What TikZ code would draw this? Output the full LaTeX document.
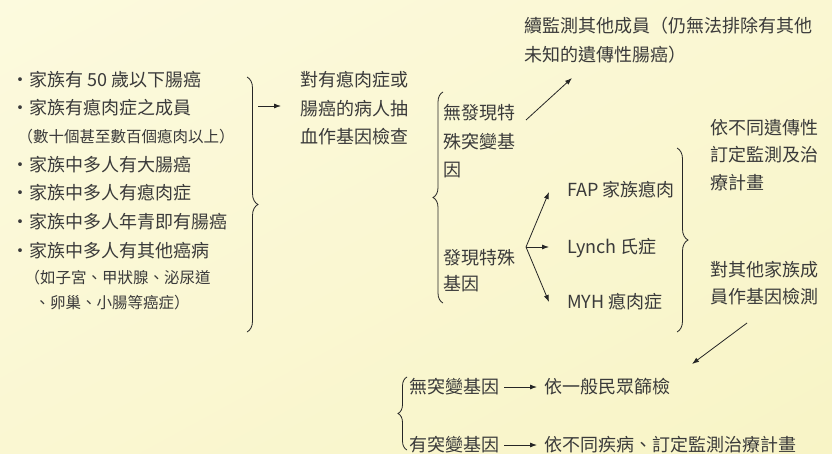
\documentclass[tikz,border=0pt]{standalone}
\usepackage{fontspec}
\setmainfont{Noto Sans CJK TC}
\usetikzlibrary{decorations.pathreplacing,arrows.meta,shadings}
\definecolor{bgA}{HTML}{FCFADE}
\definecolor{bgB}{HTML}{F8F4C6}
\definecolor{txtc}{HTML}{3A3A3A}
\definecolor{lnc}{HTML}{262626}
\begin{document}
\begin{tikzpicture}[x=1pt,y=-1pt,
  lbl/.style={anchor=west, inner sep=0pt, text=txtc, font=\fontsize{18}{20}\selectfont, text height=15.8pt, text depth=2.2pt},
  sml/.style={lbl, font=\fontsize{15.5}{17}\selectfont, text height=13.6pt, text depth=1.9pt},
  arr/.style={draw=lnc, line width=0.8pt, -{Latex[length=7pt,width=5pt]}},
  brc/.style={draw=lnc, line width=0.8pt, decorate, decoration={brace, amplitude=#1}}]
\useasboundingbox (0,0) rectangle (832,453);
\shade[upper left=bgA, lower right=bgB, upper right=bgA!50!bgB, lower left=bgA!50!bgB] (0,0) rectangle (832,453);

% left list
\node[lbl] (l1) at (11,80) {・家族有 50 歲以下腸癌};
\node[lbl] (l2) at (11,108) {・家族有瘜肉症之成員};
\node[sml] (l3) at (17.5,137) {（數十個甚至數百個瘜肉以上）};
\node[lbl] (l4) at (11,165) {・家族中多人有大腸癌};
\node[lbl] (l5) at (11,193) {・家族中多人有瘜肉症};
\node[lbl] (l6) at (11,222) {・家族中多人年青即有腸癌};
\node[lbl] (l7) at (11,251) {・家族中多人有其他癌病};
\node[sml] (l8) at (24.5,278) {（如子宮、甲狀腺、泌尿道};
\node[sml] (l9) at (34.5,303) {、卵巢、小腸等癌症）};

% middle
\node[lbl] (m1) at (300,80) {對有瘜肉症或};
\node[lbl] (m2) at (300,109) {腸癌的病人抽};
\node[lbl] (m3) at (300,137) {血作基因檢查};

\node[lbl] (n1) at (443,113) {無發現特};
\node[lbl] (n2) at (443,142) {殊突變基};
\node[lbl] (n3) at (443,170) {因};
\node[lbl] (f1) at (443,258) {發現特殊};
\node[lbl] (f2) at (443,284) {基因};

\node[lbl] (t1) at (524,26) {續監測其他成員（仍無法排除有其他};
\node[lbl] (t2) at (524,55) {未知的遺傳性腸癌）};

\node[lbl] (g1) at (567,190) {FAP 家族瘜肉};
\node[lbl] (g2) at (567,247) {Lynch 氏症};
\node[lbl] (g3) at (567,302) {MYH 瘜肉症};

\node[lbl] (r1) at (710,128) {依不同遺傳性};
\node[lbl] (r2) at (710,155) {訂定監測及治};
\node[lbl] (r3) at (710,183) {療計畫};
\node[lbl] (r4) at (710,270) {對其他家族成};
\node[lbl] (r5) at (710,297) {員作基因檢測};

\node[lbl] (b1) at (409,387) {無突變基因};
\node[lbl] (b2) at (544,387) {依一般民眾篩檢};
\node[lbl] (b3) at (409,445) {有突變基因};
\node[lbl] (b4) at (544,445) {依不同疾病、訂定監測治療計畫};

% braces
\coordinate (br1t) at (247,77);  \coordinate (br1b) at (247,332);
\coordinate (br2t) at (443,92);  \coordinate (br2b) at (443,303);
\coordinate (br3t) at (677,148); \coordinate (br3b) at (677,332);
\coordinate (br4t) at (407,377); \coordinate (br4b) at (407,450);
\draw[brc=11pt] (br1t) -- (br1b);
\draw[brc=10pt] (br2b) -- (br2t);
\draw[brc=11pt] (br3t) -- (br3b);
\draw[brc=9pt] (br4b) -- (br4t);

% arrows
\coordinate (a1s) at (258,106); \coordinate (a1e) at (281,106);
\draw[arr] (a1s) -- (a1e);
\coordinate (a2s) at (526,120); \coordinate (a2e) at (572,78);
\draw[arr] (a2s) -- (a2e);
\coordinate (fo) at (526,247);
\coordinate (fu) at (549,192); \coordinate (fm) at (549,247); \coordinate (fd) at (549,302);
\draw[arr] (fo) -- (fu);
\draw[arr] (fo) -- (fm);
\draw[arr] (fo) -- (fd);
\coordinate (a3s) at (747,323); \coordinate (a3e) at (692,364);
\draw[arr] (a3s) -- (a3e);
\draw[arr] ([xshift=5pt]b1.east) -- ([xshift=-7pt]b2.west);
\draw[arr] ([xshift=5pt]b3.east) -- ([xshift=-7pt]b4.west);
\end{tikzpicture}
\end{document}
